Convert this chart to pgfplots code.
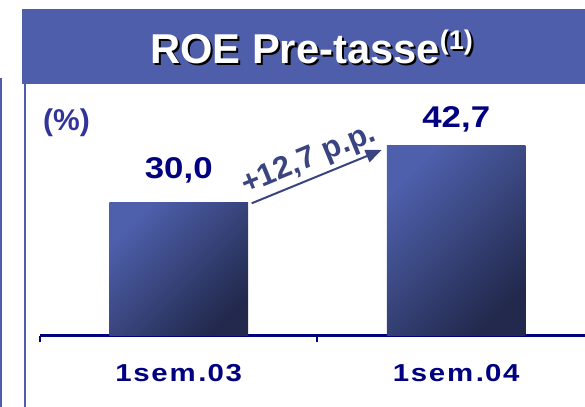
\documentclass[border=0pt]{standalone}
\usepackage{fontspec}
\setmainfont{Liberation Sans}
\usepackage{graphicx}
\usepackage{pgfplots}
\pgfplotsset{compat=1.18}
\usepackage{pgfplotstable}
\usetikzlibrary{arrows.meta}
\definecolor{tb}{RGB}{78,94,170}
\definecolor{navy}{RGB}{0,0,128}
\definecolor{pct}{RGB}{51,51,153}
\definecolor{arrowc}{RGB}{58,68,128}
\definecolor{barlight}{RGB}{78,96,172}
\definecolor{bardark}{RGB}{34,41,76}
\pgfplotstableread{
x y lab dy
0 30.0 30,0 23.7
1 42.7 42,7 17.7
}\roedata
\pgfplotstableread{
x y
0 30.0
}\barA
\pgfplotstableread{
x y
1 42.7
}\barB
\newcommand{\semlab}[1]{\scalebox{1.2}[1]{\fontsize{24.5bp}{30bp}\selectfont\bfseries 1\kern1.4bp s\kern1.4bp e\kern1.4bp m\kern2.2bp .\kern1bp 0\kern1.4bp #1}}
\begin{document}
\begin{tikzpicture}
\useasboundingbox (0bp,0bp) rectangle (585bp,407bp);
% title bar
\fill[tb] (22bp,323bp) rectangle (585bp,398bp);
% left frame lines
\draw[tb, line width=2bp] (1bp,0bp) -- (1bp,329bp);
\draw[tb, line width=2bp] (25bp,0bp) -- (25bp,323bp);
% title with shadow
\node[anchor=base west, inner sep=0, text=black] at (152.2bp,341.7bp)
  {\fontsize{41.7bp}{50bp}\selectfont\bfseries ROE Pre-tasse\raisebox{14bp}{\fontsize{27bp}{30bp}\selectfont (1)}};
\node[anchor=base west, inner sep=0, text=white] at (150bp,343.7bp)
  {\fontsize{41.7bp}{50bp}\selectfont\bfseries ROE Pre-tasse\raisebox{14bp}{\fontsize{27bp}{30bp}\selectfont (1)}};
% unit
\node[text=pct, inner sep=0] at (66.5bp,284bp) {\fontsize{30bp}{36bp}\selectfont\bfseries (\%)};
\begin{axis}[
  at={(40bp,71.5bp)}, anchor=south west,
  scale only axis, width=545bp, height=222.25bp,
  xmin=-0.5, xmax=1.464, ymin=0, ymax=50,
  axis y line=none, axis x line*=bottom,
  axis line style={draw=navy, line width=2.2bp},
  xtick={-0.5,0.5}, xticklabels={},
  tick align=outside, major tick length=7bp,
  xtick style={draw=navy, line width=2bp},
  ytick=\empty,
  clip=false,
  barstyle/.style={ybar, bar width=138.5bp, bar shift=0pt, draw=none,
    top color=barlight, bottom color=bardark, shading angle=45},
]
\addplot[barstyle] table[x=x,y=y]{\barA};
\addplot[barstyle] table[x=x,y=y]{\barB};
\addplot[draw=none, mark=none, point meta=explicit symbolic,
  visualization depends on={\thisrow{dy}\as\dy},
  nodes near coords={\scalebox{1.16}[1]{\pgfplotspointmeta}},
  every node near coord/.style={anchor=base, yshift=\dy bp, text=navy, inner sep=0,
    font=\fontsize{30bp}{36bp}\selectfont\bfseries}]
  table[x=x,y=y,meta=lab]{\roedata};
\node[anchor=base, text=navy, inner sep=0] at (axis cs:0,0) [yshift=-46.2bp] {\semlab{3}};
\node[anchor=base, text=navy, inner sep=0] at (axis cs:1,0) [yshift=-46.2bp] {\semlab{4}};
\end{axis}
% change arrow and label
\draw[arrowc, line width=2bp, -{Triangle[length=16bp,width=13bp]}] (251.7bp,203.7bp) -- (381.7bp,257bp);
\node[rotate=22.3, text=arrowc, inner sep=0] at (309bp,247bp)
  {\fontsize{31bp}{36bp}\selectfont\bfseries +12,7 p.p.};
\end{tikzpicture}
\end{document}
